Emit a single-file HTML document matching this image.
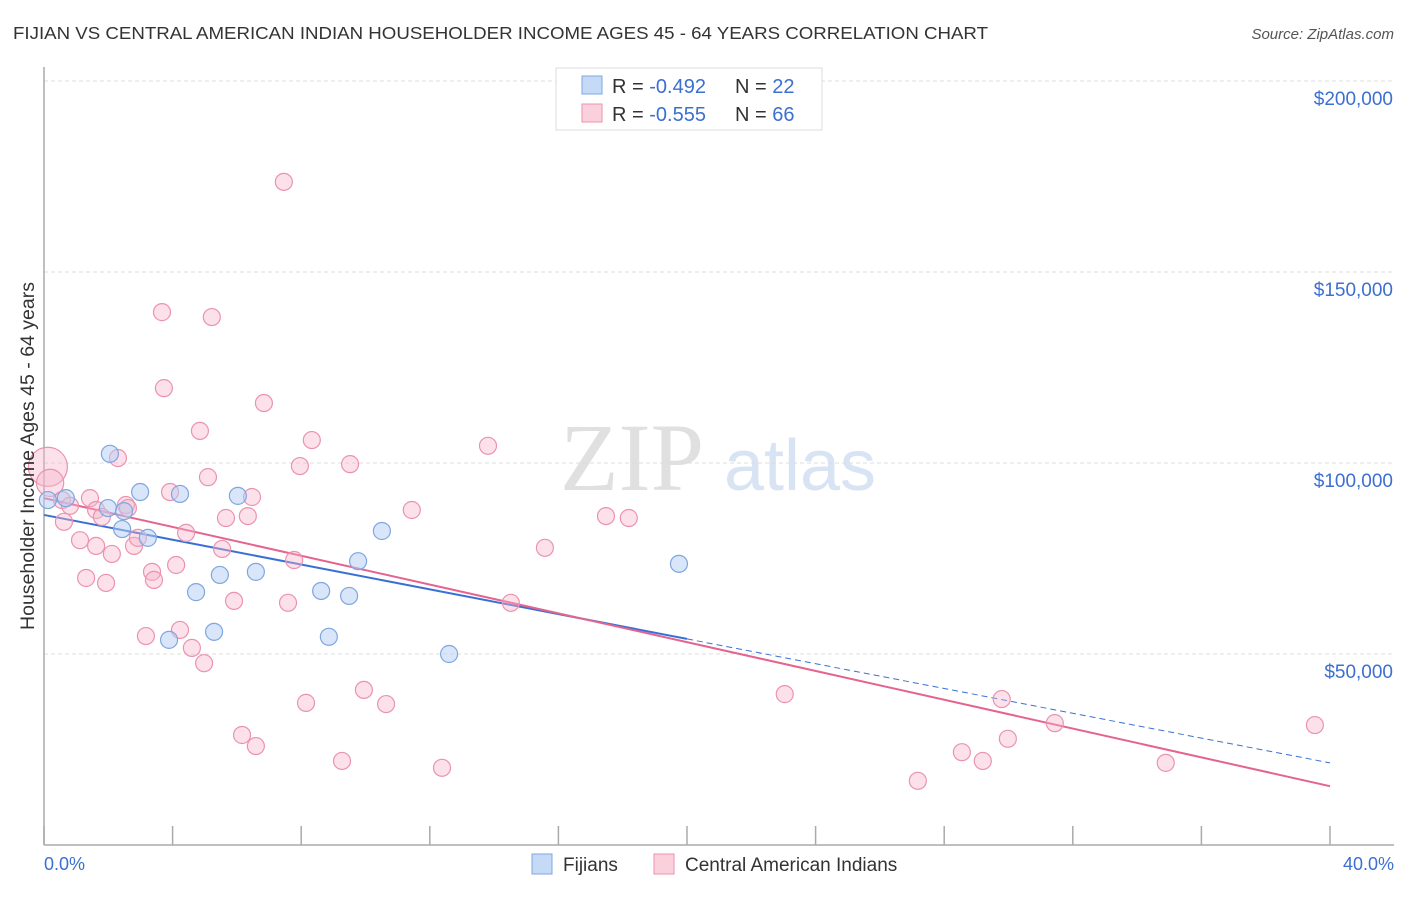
<!DOCTYPE html>
<html><head><meta charset="utf-8"><style>
body{margin:0;background:#fff;font-family:"Liberation Sans",sans-serif;}
</style></head><body>
<svg width="1406" height="892" xmlns="http://www.w3.org/2000/svg" font-family="Liberation Sans, sans-serif">
<text x="13" y="39" font-size="17.5" fill="#333" textLength="975" lengthAdjust="spacingAndGlyphs">FIJIAN VS CENTRAL AMERICAN INDIAN HOUSEHOLDER INCOME AGES 45 - 64 YEARS CORRELATION CHART</text>
<text x="1394" y="39" font-size="15" fill="#555" font-style="italic" text-anchor="end">Source: ZipAtlas.com</text>
<g>
<text x="632" y="490" font-size="96" fill="#e0e0e0" font-family="Liberation Serif, serif" text-anchor="middle">ZIP</text>
<text x="800" y="490" font-size="72" fill="#d8e4f4" text-anchor="middle">atlas</text>
</g>
<g id="grid"></g>
<g id="axes"></g>
<g id="lines"></g>
<g id="pts"></g>
<text transform="translate(34,456) rotate(-90)" font-size="19.5" fill="#333" text-anchor="middle">Householder Income Ages 45 - 64 years</text>
<text x="44" y="870" font-size="18" fill="#3b6fd0">0.0%</text>
<text x="1394" y="870" font-size="18" fill="#3b6fd0" text-anchor="end">40.0%</text>
<g>
<rect x="556" y="68" width="266" height="62" fill="#fff" stroke="#ddd"/>
<rect x="582" y="76" width="20" height="18" fill="#c5daf6" stroke="#7fa6e0"/>
<rect x="582" y="104" width="20" height="18" fill="#fbd0dd" stroke="#eb93ae"/>
<text x="612" y="93" font-size="20" fill="#333">R = <tspan fill="#3b6fd0">-0.492</tspan></text>
<text x="735" y="93" font-size="20" fill="#333">N = <tspan fill="#3b6fd0">22</tspan></text>
<text x="612" y="121" font-size="20" fill="#333">R = <tspan fill="#3b6fd0">-0.555</tspan></text>
<text x="735" y="121" font-size="20" fill="#333">N = <tspan fill="#3b6fd0">66</tspan></text>
</g>
<g>
<rect x="532" y="854" width="20" height="20" fill="#c5daf6" stroke="#7fa6e0"/>
<text x="563" y="871" font-size="19" fill="#333">Fijians</text>
<rect x="654" y="854" width="20" height="20" fill="#fbd0dd" stroke="#eb93ae"/>
<text x="685" y="871" font-size="19" fill="#333">Central American Indians</text>
</g>
</svg>
<script>
const yTicks=[50000,100000,150000,200000];
const yTickLabels=["$50,000","$100,000","$150,000","$200,000"];
const xTicks=[0,4,8,12,16,20,24,28,32,36,40];
const fijiX=[0.12,0.68,1.99,2.49,2.05,2.99,2.43,3.23,4.23,4.73,3.89,5.29,5.47,6.03,6.59,8.62,8.86,9.49,9.77,10.51,12.60,19.75];
const fijiY=[90.3,90.8,88.2,87.4,102.4,92.4,82.7,80.4,91.9,66.2,53.7,55.8,70.7,91.4,71.5,66.5,54.5,65.2,74.3,82.2,50.0,73.6];
const camX=[0.12,0.19,0.56,0.81,1.43,0.62,1.62,1.80,1.12,1.62,1.31,1.93,2.30,2.11,2.80,2.55,2.61,2.92,3.36,3.42,3.17,3.67,3.73,3.92,4.11,4.42,4.23,4.60,4.98,4.85,5.10,5.22,5.54,5.66,5.91,6.34,6.47,6.84,6.16,6.59,7.46,7.78,7.59,7.96,8.33,8.15,9.27,9.52,9.95,10.64,11.44,12.38,13.81,14.52,15.58,17.48,18.19,23.04,27.18,28.55,29.20,29.79,29.98,31.44,34.89,39.53];
const camY=[99.0,94.8,90.3,88.8,90.8,84.6,87.7,85.9,79.8,78.3,69.9,68.6,101.3,76.2,78.3,89.0,88.2,80.4,71.5,69.4,54.7,139.5,119.6,92.4,73.3,81.7,56.3,51.6,47.6,108.4,96.3,138.2,77.5,85.6,63.9,86.1,91.1,115.7,28.8,25.9,173.6,74.6,63.4,99.2,106.0,37.2,22.0,99.7,40.6,36.9,87.7,20.2,104.5,63.4,77.8,86.1,85.6,39.5,16.8,24.3,22.0,38.2,27.8,31.9,21.5,31.4];
const camSize=[2.3,1.6];
const fijiFit=[86.4,21.5];
const camFit=[90.8,15.4];
const fijiSolidEnd=20;
const NS="http://www.w3.org/2000/svg";
const sx=v=>44+v/40*1286;
const sy=v=>845-v/50000*191;
function mk(tag,attrs,parent){const e=document.createElementNS(NS,tag);for(const k in attrs)e.setAttribute(k,attrs[k]);document.getElementById(parent).appendChild(e);return e;}
yTicks.forEach((t,i)=>{
 const l=mk('line',{x1:44,x2:1394,y1:sy(t),y2:sy(t),stroke:'#ddd','stroke-dasharray':'4,3'},'grid');
 
 
 const tx=mk('text',{x:1393,y:sy(t)+24,'font-size':19,fill:'#3b6fd0','text-anchor':'end'},'grid');
 tx.textContent=yTickLabels[i];
 
 
});
const ya=mk('line',{x1:44,x2:44,y1:67,y2:845,stroke:'#aaa','stroke-width':1.5},'axes');


const xa=mk('line',{x1:44,x2:1394,y1:845,y2:845,stroke:'#aaa','stroke-width':1.5},'axes');


xTicks.forEach(t=>{
 const l=mk('line',{x1:sx(t),x2:sx(t),y1:826,y2:845,stroke:'#aaa','stroke-width':1.5},'axes');
 
 
});
const fy=x=>(fijiFit[0]+(fijiFit[1]-fijiFit[0])*x/40)*1000;
const cy=x=>(camFit[0]+(camFit[1]-camFit[0])*x/40)*1000;
let l1=mk('line',{x1:sx(0),y1:sy(fy(0)),x2:sx(fijiSolidEnd),y2:sy(fy(fijiSolidEnd)),stroke:'#3a70d6','stroke-width':2},'lines');


let l2=mk('line',{x1:sx(fijiSolidEnd),y1:sy(fy(fijiSolidEnd)),x2:sx(40),y2:sy(fy(40)),stroke:'#3a70d6','stroke-width':1,'stroke-dasharray':'6,4'},'lines');


let l3=mk('line',{x1:sx(0),y1:sy(cy(0)),x2:sx(40),y2:sy(cy(40)),stroke:'#e4638f','stroke-width':2},'lines');


camX.forEach((x,i)=>{
 const r=i<camSize.length?8.5*camSize[i]:8.5;
 const c=mk('circle',{cx:sx(x),cy:sy(camY[i]*1000),r:r,fill:'rgba(248,180,202,0.4)',stroke:'#eb93ae','stroke-width':1.2},'pts');
 
 
});
fijiX.forEach((x,i)=>{
 const c=mk('circle',{cx:sx(x),cy:sy(fijiY[i]*1000),r:8.5,fill:'rgba(180,206,244,0.5)',stroke:'#7fa6e0','stroke-width':1.2},'pts');
 
 
});
</script>
</body></html>
